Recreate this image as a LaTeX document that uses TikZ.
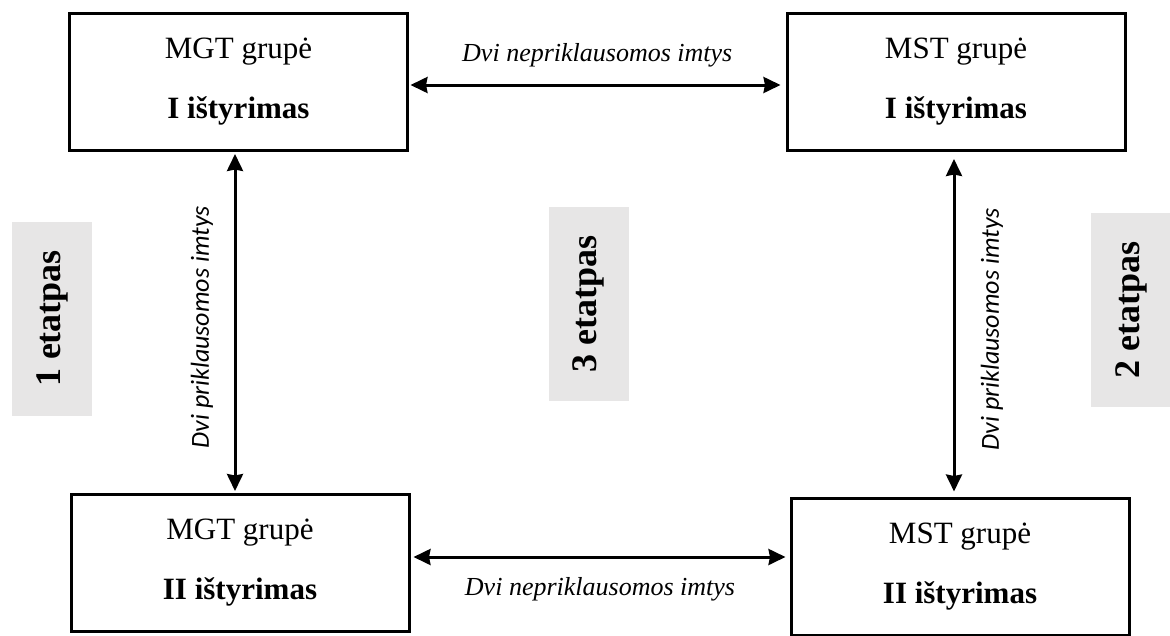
\documentclass[tikz,border=0pt]{standalone}
\usepackage{fontspec}
\setmainfont{Liberation Serif}
\newfontfamily\labelfont{Carlito}
\usetikzlibrary{arrows.meta}
\definecolor{etgray}{HTML}{E7E6E6}
\begin{document}
\begin{tikzpicture}[x=1pt,y=-1pt,
  stagebox/.style={draw, line width=3pt, minimum width=338pt, minimum height=137pt,
    align=center, inner sep=0pt, font=\fontsize{31}{60}\selectfont},
  phase/.style={fill=etgray, rotate=90, minimum width=194pt, minimum height=80pt,
    inner sep=0pt, font=\fontsize{36}{40}\selectfont\bfseries},
  link/.style={line width=3pt,
    {Stealth[length=17pt,width=16pt,inset=1.5pt]}-{Stealth[length=17pt,width=16pt,inset=1.5pt]}},
  hlabel/.style={font=\fontsize{26}{30}\selectfont\itshape},
  vlabel/.style={font=\labelfont\fontsize{26}{30}\selectfont\itshape, rotate=90},
]
\useasboundingbox (0,0) rectangle (1170,635);

% grey stage markers
\node[phase] (p1) at (52,318.5) {1 etatpas};
\node[phase] (p3) at (588.5,304) {3 etatpas};
\node[phase] (p2) at (1131,310) {2 etatpas};

% the four study boxes
\node[stagebox] (tl) at (238.5,82) {MGT grupė\\\textbf{I ištyrimas}};
\node[stagebox] (tr) at (956,82) {MST grupė\\\textbf{I ištyrimas}};
\node[stagebox] (bl) at (240,562.5) {MGT grupė\\\textbf{II ištyrimas}};
\node[stagebox] (br) at (960,566.5) {MST grupė\\\textbf{II ištyrimas}};

% connector heights and columns
\coordinate (ytop) at (0,85);
\coordinate (ybot) at (0,557);
\coordinate (xleft) at (235,0);
\coordinate (xright) at (954,0);

\draw[link, shorten <=1.5pt, shorten >=5pt] (tl.east |- ytop) -- (tr.west |- ytop)
  node[midway, yshift=30pt, hlabel] (lt) {Dvi nepriklausomos imtys};
\draw[link, shorten <=3pt, shorten >=4pt] (bl.east |- ybot) -- (br.west |- ybot)
  node[midway, yshift=-32pt, hlabel] (lb) {Dvi nepriklausomos imtys};
\draw[link, shorten <=2pt, shorten >=1.5pt] (tl.south -| xleft) -- (bl.north -| xleft)
  node[midway, xshift=-33pt, yshift=-5pt, vlabel] (ll) {Dvi priklausomos imtys};
\draw[link, shorten <=7pt, shorten >=5pt] (tr.south -| xright) -- (br.north -| xright)
  node[midway, xshift=38pt, yshift=-5pt, vlabel] (lr) {Dvi priklausomos imtys};
\end{tikzpicture}
\end{document}
